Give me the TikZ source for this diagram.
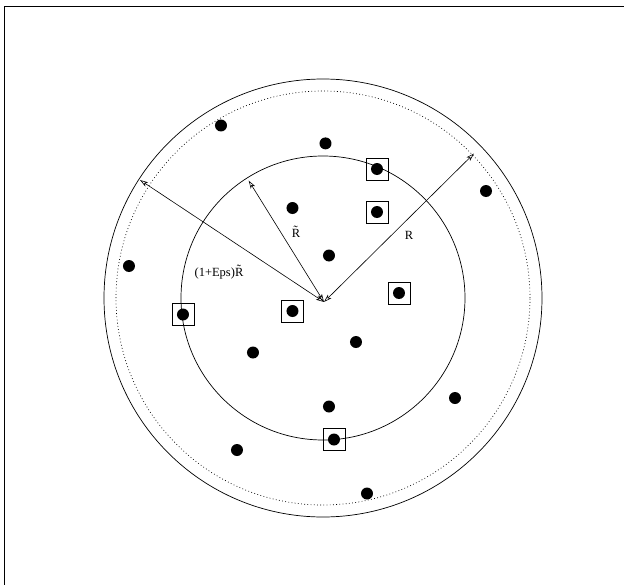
\documentclass[tikz,border=0pt]{standalone}
\usepackage{fontspec}
\setmainfont{Liberation Serif}
\usetikzlibrary{arrows.meta}

\begin{document}
\begin{tikzpicture}[x=1pt, y=1pt, line width=0.7pt,
		every node/.style={font=\fontsize{12.5}{14}\selectfont},
		dot/.style={circle, fill=black, inner sep=0pt, minimum size=12pt},
		pick/.style={draw, rectangle, inner sep=0pt, minimum size=22pt},
		radius arrow/.style={<->, >={Stealth[open, length=8pt, width=5pt, inset=2pt]}, line width=0.6pt}]
		\useasboundingbox (-323,-286) rectangle (301,298);
		% frame
		\draw (-319,-290) -- (-319,291.5) -- (305,291.5);
		% circles
		\coordinate (o) at (0,0);
		\draw (o) circle (142);
		\draw[dash pattern=on 0.8pt off 2.4pt] (o) circle (207);
		\draw (o) circle (219);
		% points
		\foreach \x/\y/\n in {-102/172.5/1, 2.5/154.6/2, 54/129/3, 163/107/4, -30.5/90/5, 54/86/6,
			6/42.5/7, -194/32/8, 76/5/9, -140/-16.5/10, -30.5/-13/11, 33/-44/12, -70/-54.5/13,
			6/-108.5/14, 132/-100/15, 11/-141.5/16, -86/-152/17, 44/-195.5/18}
			\node[dot] (p\n) at (\x,\y) {};
		\foreach \n in {3,6,9,10,11,16}
			\node[pick] (b\n) at (p\n) {};
		% radii
		\coordinate (c) at (1,-4);
		\coordinate (eps) at (-183,118);
		\coordinate (rt) at (-74.3,117.4);
		\coordinate (r) at (151,144.5);
		\draw[radius arrow] (c) -- (eps);
		\draw[radius arrow] (c) -- (rt);
		\draw[radius arrow] (c) -- (r);
		\node (lrt) at (-27,66) {\~{R}};
		\node (lr) at (86,62.6) {R};
		\node (leps) at (-104,26) {(1+Eps)\~{R}};
	\end{tikzpicture}
\end{document}
